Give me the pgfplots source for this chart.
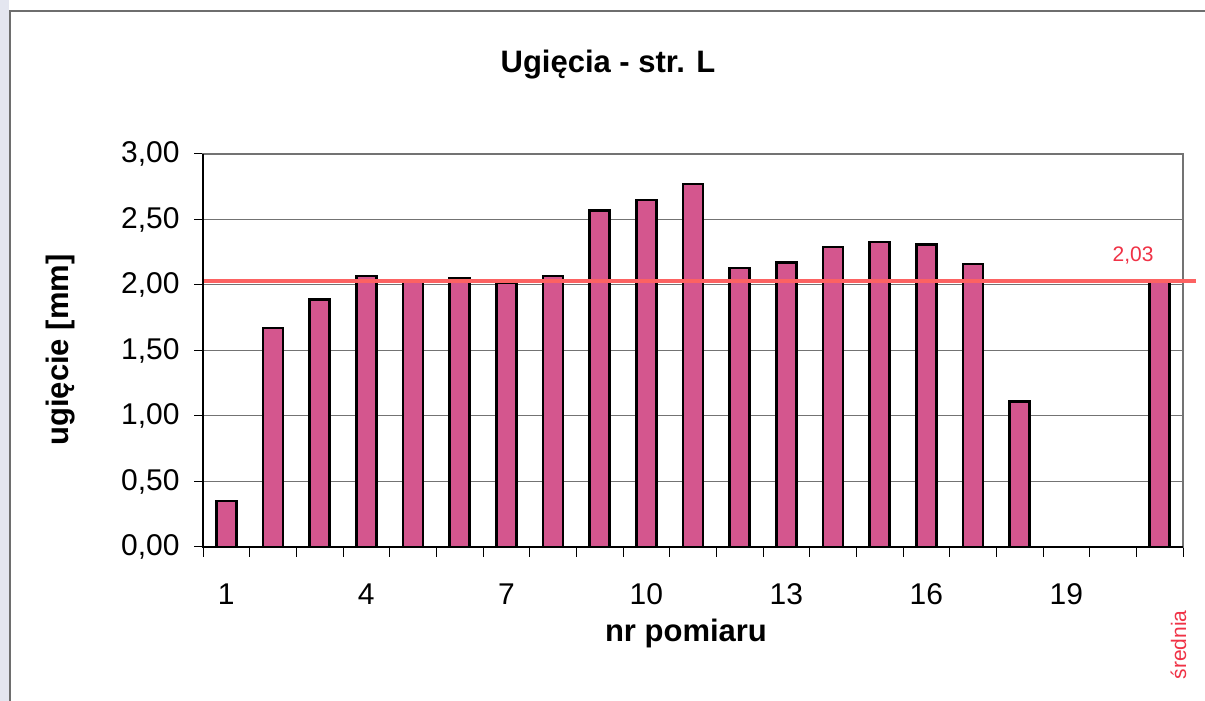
\documentclass[border=0pt]{standalone}
\usepackage{pgfplots}
\pgfplotsset{compat=1.18}
\usepackage{fontspec}
\setmainfont{Liberation Sans}
\definecolor{barc}{RGB}{212,86,142}
\definecolor{avgline}{RGB}{252,98,98}
\definecolor{avgtext}{RGB}{240,50,70}
\definecolor{gridc}{RGB}{115,115,115}
\definecolor{strip}{RGB}{228,230,240}
\definecolor{framec}{RGB}{110,110,110}
\begin{document}
\begin{tikzpicture}[x=1bp,y=1bp]
\useasboundingbox (0,0) rectangle (1205,701);
\fill[white] (0,0) rectangle (1205,701);
\fill[strip] (0,0) rectangle (9,701);
\draw[framec, line width=1.2bp] (10,-5) -- (10,690) -- (1210,690);
\begin{axis}[
  at={(203bp,154bp)}, anchor=south west,
  scale only axis, width=980bp, height=393bp,
  xmin=0.5, xmax=21.5, ymin=0, ymax=3,
  ytick={0,0.5,1,1.5,2,2.5,3},
  xtick={1,4,7,10,13,16,19},
  minor xtick={0.5,1.5,2.5,3.5,4.5,5.5,6.5,7.5,8.5,9.5,10.5,11.5,12.5,13.5,14.5,15.5,16.5,17.5,18.5,19.5,20.5,21.5},
  major x tick style={draw=none},
  tick align=outside,
  tick pos=left,
  major tick length=9bp, minor tick length=10bp,
  ymajorgrids, grid style={gridc, line width=1bp},
  axis line style={gridc, line width=1.2bp},
  tick style={black, line width=1bp},
  minor tick style={black, line width=1bp},
  /pgf/number format/assume math mode=true,
  ticklabel style={font=\fontsize{30bp}{34bp}\selectfont, text=black},
  xticklabel style={yshift=-24bp},
  yticklabel style={xshift=-11bp, /pgf/number format/.cd, fixed, fixed zerofill, precision=2, use comma},
  clip=false,
]
\addplot[ybar, bar width=20bp, fill=barc, draw=black, line width=2.5bp]
  coordinates {(1,0.35) (2,1.67) (3,1.89) (4,2.07) (5,2.03) (6,2.05) (7,2.02) (8,2.07) (9,2.57) (10,2.65) (11,2.77) (12,2.13) (13,2.17) (14,2.29) (15,2.33) (16,2.31) (17,2.16) (18,1.11) (21,2.03)};
\draw[black, line width=1.5bp] (rel axis cs:0,1) -- (rel axis cs:0,0) -- (rel axis cs:1,0);
\addplot[avgline, line width=4.5bp] coordinates {(0.53,2.03) (21.78,2.03)};
\end{axis}
\node[anchor=base, font=\fontsize{31bp}{36bp}\selectfont\bfseries, text=black] at (608,628) {Ugięcia - str. L};
\node[anchor=base, font=\fontsize{31bp}{36bp}\selectfont\bfseries, text=black] at (686,59) {nr pomiaru};
\node[rotate=90, anchor=center, font=\fontsize{31bp}{36bp}\selectfont\bfseries, text=black] at (61,351) {ugięcie [mm]};
\node[anchor=base, font=\fontsize{21bp}{25bp}\selectfont, text=avgtext] at (1133,439) {2,03};
\node[rotate=90, anchor=base west, font=\fontsize{21bp}{25bp}\selectfont, text=avgtext] at (1186,18) {średnia};
\end{tikzpicture}
\end{document}
